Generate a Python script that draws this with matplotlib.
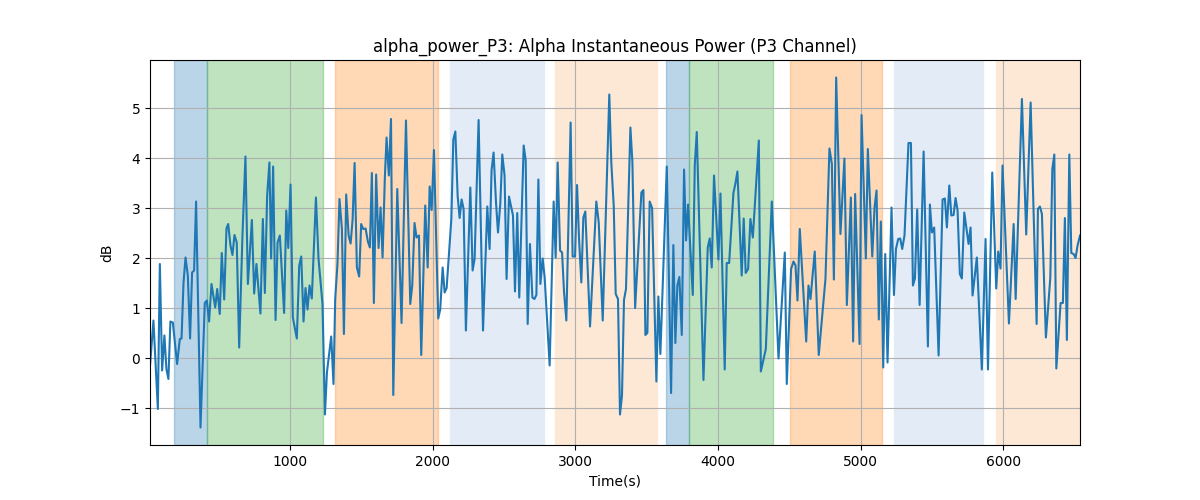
import numpy as np
import matplotlib.pyplot as plt

# time (s) and alpha power (dB)
times = [
    21, 44, 75, 89, 105, 121, 135, 149, 163, 180,
    210, 229, 241, 255, 269, 285, 301, 315, 329, 343,
    374, 404, 418, 434, 451, 477, 491, 509, 523, 540,
    556, 568, 584, 598, 612, 628, 645, 668, 689, 706,
    734, 750, 766, 794, 811, 825, 841, 857,
    869, 883, 900, 914, 930, 960, 975, 989, 1005, 1021,
    1049, 1066, 1080, 1096, 1110, 1124, 1138, 1154, 1183, 1201,
    1229, 1246, 1260, 1290, 1306, 1318, 1334, 1348, 1365, 1379,
    1395, 1412, 1426, 1440, 1454, 1470, 1486, 1500, 1514, 1531,
    1547, 1561, 1575, 1589, 1605, 1622, 1636, 1650, 1666, 1678, 1694,
    1709, 1725, 1753, 1783, 1814, 1844, 1858, 1874, 1888, 1905,
    1921, 1949, 1966, 1980, 1994, 2010, 2040, 2054, 2071, 2085,
    2099, 2132, 2146, 2160, 2176, 2190, 2204, 2218, 2234, 2265,
    2281, 2295, 2323, 2354, 2384, 2400, 2414, 2428, 2445, 2459,
    2475, 2489, 2505, 2519, 2536,
    2564, 2578, 2594, 2608, 2639, 2653, 2667, 2683, 2700, 2714,
    2728, 2742, 2756, 2772, 2786, 2821, 2849, 2863, 2877, 2894,
    2908, 2922, 2938, 2968, 2982, 2999, 3013, 3027, 3043, 3057,
    3071, 3104, 3148, 3165, 3193, 3239, 3253, 3270, 3284, 3300,
    3314, 3328, 3342, 3356,
    3387, 3401, 3420, 3464, 3478, 3492, 3506, 3522, 3539, 3569,
    3583, 3597, 3642, 3672, 3688, 3702, 3716, 3730, 3747, 3763,
    3777, 3791, 3824, 3838, 3852, 3899, 3929, 3943, 3957, 3973,
    4004, 4018, 4048, 4062, 4079, 4109, 4123, 4137, 4167, 4181,
    4195, 4212,
    4228, 4245, 4287, 4301, 4336, 4378, 4425, 4469, 4483, 4513,
    4530, 4544, 4558, 4574, 4619, 4635, 4649, 4679, 4707, 4754,
    4782, 4799, 4813, 4829, 4859, 4887, 4904, 4932, 4948, 4962,
    4993, 5007, 5037, 5051,
    5082, 5098, 5112, 5128, 5142, 5159, 5173, 5189, 5217, 5234,
    5248, 5264, 5278, 5292, 5308, 5336, 5353, 5367, 5381, 5397,
    5414, 5442, 5472, 5486, 5500, 5516, 5547, 5575, 5591, 5605,
    5622, 5636, 5652, 5666, 5680, 5696, 5710, 5727, 5757, 5771,
    5785, 5815, 5850, 5876, 5893,
    5923, 5951, 5965, 5981, 5995, 6040, 6073, 6087, 6131, 6161,
    6192, 6234, 6243, 6257, 6271, 6299, 6330, 6344, 6358, 6372,
    6402, 6418, 6432, 6446, 6463, 6477, 6493, 6507, 6521, 6538,
]

power_db = [
    -0.12, 0.75, -1.02, 1.88, -0.25, 0.45, -0.22, -0.42, 0.73, 0.71,
    -0.12, 0.38, 0.39, 1.51, 2.01, 1.65, 0.39, 1.71, 1.75, 3.13,
    -1.39, 1.1, 1.15, 0.73, 1.48, 1.01, 1.38, 0.88, 2.1, 1.17,
    2.59, 2.68, 2.25, 2.06, 2.46, 2.31, 0.21, 2.45, 4.03, 1.48,
    2.76, 1.29, 1.88, 0.89, 2.78, 1.3, 3.25, 3.91,
    1.99, 3.83, 0.76, 2.31, 2.45, 0.9, 2.95, 2.2, 3.47, 0.81,
    0.39, 1.85, 2.03, 0.73, 1.4, 0.97, 1.45, 1.19, 3.21, 1.99,
    1.08, -1.13, -0.29, 0.43, -0.52, 1.18, 1.89, 3.18, 2.58, 0.48,
    3.27, 2.45, 2.29, 2.77, 3.9, 1.81, 1.63, 2.68, 2.58, 2.59,
    2.33, 2.21, 3.7, 1.1, 3.67, 2.2, 3.01, 2.01, 3.61, 4.41, 3.65,
    4.78, -0.74, 3.38, 0.7, 4.75, 1.08, 1.45, 2.7, 2.41, 2.45,
    0.06, 3.05, 1.81, 3.43, 2.96, 4.16, 0.79, 0.97, 1.81, 1.31,
    1.4, 2.78, 4.37, 4.53, 3.25, 2.8, 3.17, 2.98, 0.55, 3.41,
    1.75, 1.98, 4.76, 0.55, 3.03, 2.18, 3.76, 4.11, 3.11, 2.51,
    3.08, 4.07, 3.65, 1.58, 3.23,
    2.85, 1.33, 2.9, 1.21, 4.25, 3.95, 0.68, 2.28, 1.21, 1.18,
    1.26, 3.57, 1.48, 1.99, 1.61, -0.15, 3.13, 2.01, 3.91, 2.15,
    2.11, 1.31, 0.75, 4.71, 2.03, 2.03, 3.46, 2.38, 1.51, 2.81,
    2.93, 0.63, 3.13, 2.71, 0.75, 5.27, 3.91, 3.05, 1.28, 1.18,
    -1.13, -0.75, 1.16, 1.38,
    4.61, 3.91, 1.0, 3.31, 3.36, 0.46, 0.5, 3.13, 3.0, -0.47,
    1.23, 0.08, 3.83, -0.7, 2.26, 0.3, 1.45, 1.62, 0.46, 3.77,
    2.35, 3.07, 1.26, 3.85, 4.52, -0.44, 2.21, 2.39, 1.81, 3.65,
    1.97, 3.29, -0.23, 1.9, 1.9, 3.3, 3.49, 3.73, 1.65, 2.79,
    1.7, 1.78,
    2.78, 2.41, 4.35, -0.27, 0.18, 3.13, -0.01, 2.11, -0.52, 1.78,
    1.93, 1.85, 1.15, 2.58, 0.33, 1.45, 1.18, 2.13, 0.06, 1.58,
    4.19, 3.88, 1.57, 5.61, 2.48, 3.99, 1.06, 3.21, 0.33, 3.28,
    0.28, 4.86, 1.99, 4.18,
    2.03, 3.01, 3.35, 0.77, 2.73, -0.19, 2.08, -0.09, 3.01, 1.26,
    2.18, 2.38, 2.39, 2.18, 2.45, 4.3, 4.3, 1.45, 1.59, 2.97,
    1.06, 4.13, 0.23, 3.07, 2.51, 2.61, 0.05, 3.17, 3.19, 2.61,
    3.45, 2.85, 2.86, 3.2, 2.95, 1.68, 1.59, 2.91, 2.28, 2.61,
    1.25, 2.01, -0.23, 2.38, -0.23,
    3.71, 1.39, 2.13, 1.79, 3.85, 0.69, 2.68, 1.18, 5.18, 2.47,
    5.11, 0.68, 2.98, 3.03, 2.88, 0.41, 1.61, 3.78, 4.07, -0.21,
    1.1, 1.1, 2.8, 0.36, 4.07, 2.1, 2.08, 2.0, 2.25, 2.45,
]

# shaded segments: start, end, colour, alpha
span_starts = [187, 418, 1320, 2122, 2856, 3635, 3798, 4504, 5236, 5949]
span_ends = [418, 1232, 2040, 2784, 3571, 3798, 4388, 5152, 5860, 6600]
span_colors = [
    "tab:blue", "tab:green", "tab:orange", "#E3EBF6", "#FDE8D5",
    "tab:blue", "tab:green", "tab:orange", "#E3EBF6", "#FDE8D5",
]
span_alphas = [0.3, 0.3, 0.3, 1.0, 1.0, 0.3, 0.3, 0.3, 1.0, 1.0]

fig, ax = plt.subplots(figsize=(12, 5), dpi=100)

for start, end, color, alpha in zip(span_starts, span_ends, span_colors, span_alphas):
    ax.axvspan(start, end, color=color, alpha=alpha)

ax.plot(times, power_db, color="tab:blue", linewidth=1.5)

ax.set_xlim(times[0] - 1, times[-1])
ax.set_title("alpha_power_P3: Alpha Instantaneous Power (P3 Channel)")
ax.set_xlabel("Time(s)")
ax.set_ylabel("dB")
ax.grid(True)

plt.savefig("out.png", dpi=100)
plt.close()
